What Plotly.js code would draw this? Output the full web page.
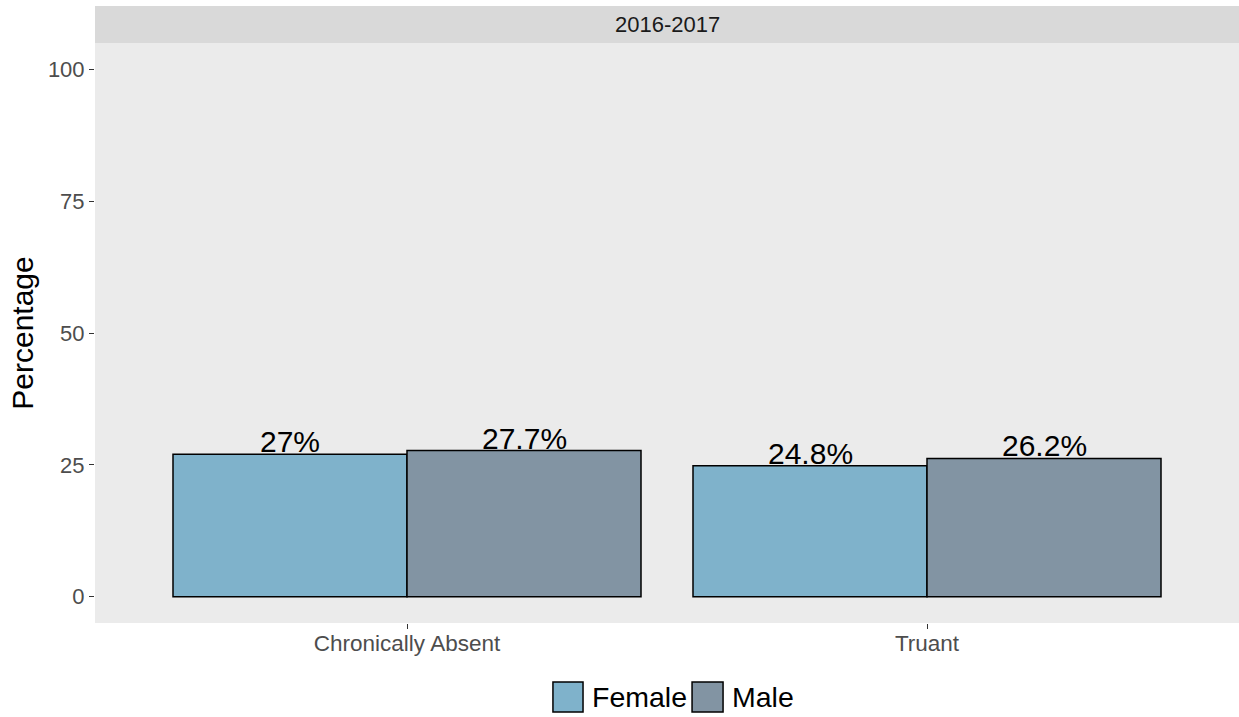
<!DOCTYPE html>
<html>
<head>
<meta charset="utf-8">
<script src="https://cdn.plot.ly/plotly-3.0.1.min.js"></script>
<style>html,body{margin:0;padding:0;background:#fff;}#chart{width:1239px;height:717px;}</style>
</head>
<body>
<div id="chart"></div>
<script>
const categories = ["Chronically Absent", "Truant"];
const seriesNames = ["Female", "Male"];
const femaleValues = [27, 24.8];
const maleValues = [27.7, 26.2];
const facetLabel = "2016-2017";
const yTicks = [0, 25, 50, 75, 100];

const seriesColors = ["#7fb2cb", "#8294a3"];
const FONT = "Liberation Sans, Arial, sans-serif";
const fmt = v => v + "%";
const allValues = [femaleValues, maleValues];

const traces = allValues.map((vals, s) => ({
  type: "bar", name: seriesNames[s], x: categories, y: vals,
  showlegend: false,
  marker: {color: seriesColors[s], line: {color: "#000", width: 1.5}}
}));

// geometry constants for grouped bars (bargap 0.1, two series)
const BARGAP = 0.1;
const barW = (1 - BARGAP) / 2;
const annotations = [];
allValues.forEach((vals, s) => {
  vals.forEach((v, i) => {
    annotations.push({
      xref: "x", yref: "y", x: i + (s - 0.5) * barW, y: v,
      text: fmt(v), showarrow: false, xanchor: "center", yanchor: "bottom",
      yshift: -6, font: {size: 30, color: "#000", family: FONT}
    });
  });
});

// facet strip label
annotations.push({
  text: facetLabel, xref: "paper", yref: "paper", x: 0.5, y: 1 + 18.5/580,
  xanchor: "center", yanchor: "middle", showarrow: false,
  font: {size: 22, color: "#1a1a1a", family: FONT}
});

// custom legend (ggplot-style large keys)
const legendKeyX = [[0.4003, 0.4266], [0.5219, 0.5490]];
const legendTextX = [0.4327, 0.5551];
const shapes = [{
  type: "rect", xref: "paper", yref: "paper", x0: 0, x1: 1, y0: 1, y1: 1 + 37/580,
  fillcolor: "#d9d9d9", line: {width: 0}
}];
seriesNames.forEach((n, s) => {
  shapes.push({
    type: "rect", xref: "paper", yref: "paper",
    x0: legendKeyX[s][0], x1: legendKeyX[s][1], y0: -0.1017, y1: -0.1534,
    fillcolor: seriesColors[s], line: {color: "#000", width: 1.5}
  });
  annotations.push({
    text: n, xref: "paper", yref: "paper", x: legendTextX[s], y: -0.1276,
    xanchor: "left", yanchor: "middle", showarrow: false,
    font: {size: 28.5, color: "#000", family: FONT}
  });
});

const layout = {
  width: 1239, height: 717,
  margin: {l: 95, r: 0, t: 43, b: 94},
  paper_bgcolor: "#fff", plot_bgcolor: "#ebebeb",
  font: {family: FONT, color: "#4d4d4d"},
  barmode: "group", bargap: BARGAP, bargroupgap: 0,
  showlegend: false,
  xaxis: {
    type: "category", range: [-0.6, 1.6], showgrid: false, zeroline: false,
    ticks: "outside", ticklen: 5, tickcolor: "#333", tickwidth: 1,
    ticklabelstandoff: -5,
    tickfont: {size: 22.5, color: "#4d4d4d"}, showline: false
  },
  yaxis: {
    range: [-5, 105], tickvals: yTicks, ticktext: yTicks.map(String),
    showgrid: false, zeroline: false,
    ticks: "outside", ticklen: 5, tickcolor: "#333", tickwidth: 1,
    tickfont: {size: 22, color: "#4d4d4d"},
    title: {text: "Percentage", font: {size: 30, color: "#000"}, standoff: 5}
  },
  shapes: shapes,
  annotations: annotations
};

Plotly.newPlot("chart", traces, layout, {displayModeBar: false, staticPlot: true});
</script>
</body>
</html>
